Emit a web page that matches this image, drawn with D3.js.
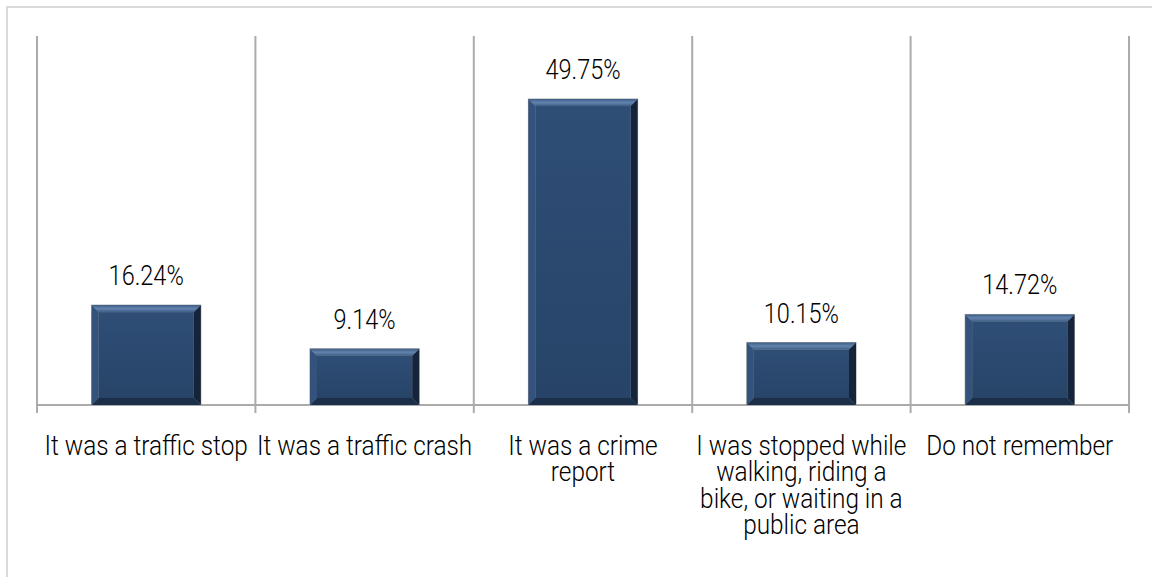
<!DOCTYPE html>
<html>
<head>
<meta charset="utf-8">
<script src="https://cdn.jsdelivr.net/npm/d3@7"></script>
<style>
  html, body { margin: 0; padding: 0; background: #fff; overflow: hidden; }
  text { font-family: Roboto, 'Noto Sans', sans-serif; font-weight: 300; fill: #000; }
</style>
</head>
<body>
<svg id="chart"></svg>
<script>
const categories = ['stop', 'crash', 'crime', 'stopped', 'remember']
const categoryLines = [
  ['It was a traffic stop'],
  ['It was a traffic crash'],
  ['It was a crime', 'report'],
  ['I was stopped while', 'walking, riding a', 'bike, or waiting in a', 'public area'],
  ['Do not remember']
]
const values = [16.24, 9.14, 49.75, 10.15, 14.72]
const valueLabels = ['16.24%', '9.14%', '49.75%', '10.15%', '14.72%']

const W = 1152, H = 577
const plot = { left: 37, right: 1129, top: 36, bottom: 405 }
const fontSize = 28
const squeezeValue = 0.84
const squeezeCat = 0.87

const svg = d3.select('#chart').attr('width', W).attr('height', H)

// outer frame (runs past the right and bottom edges)
svg.append('rect')
  .attr('x', 7).attr('y', 7)
  .attr('width', W + 20).attr('height', H + 20)
  .attr('fill', '#fff')
  .attr('stroke', '#d9d9d9')
  .attr('stroke-width', 2)

const x = d3.scaleBand().domain(categories).range([plot.left, plot.right])
const y = d3.scaleLinear().domain([0, 60]).range([plot.bottom, plot.top])

// vertical gridlines at category boundaries, with ticks below the axis
const bounds = categories.map(c => x(c)).concat([plot.right])
svg.append('g')
  .selectAll('line')
  .data(bounds)
  .join('line')
  .attr('x1', d => d).attr('x2', d => d)
  .attr('y1', plot.top).attr('y2', plot.bottom + 8)
  .attr('stroke', '#ababab')
  .attr('stroke-width', 2)

// x axis line
svg.append('line')
  .attr('x1', plot.left).attr('x2', plot.right)
  .attr('y1', plot.bottom).attr('y2', plot.bottom)
  .attr('stroke', '#ababab')
  .attr('stroke-width', 2)

// gradients for bevel faces
const defs = svg.append('defs')
const grad = (id, x2, y2, stops) => {
  const g = defs.append('linearGradient').attr('id', id)
    .attr('x1', 0).attr('y1', 0).attr('x2', x2).attr('y2', y2)
  stops.forEach(([o, c]) => g.append('stop').attr('offset', o).attr('stop-color', c))
}
grad('gTop', 0, 1, [[0, '#3d5d86'], [0.5, '#6283ad'], [1, '#3f5f88']])
grad('gFace', 0, 1, [[0, '#2f4e76'], [1, '#274468']])

const rows = categories.map((c, i) => ({ c, v: values[i], label: valueLabels[i], lines: categoryLines[i] }))

const bw = x.bandwidth() * 0.5
const bev = 7
const bars = svg.append('g')
  .selectAll('g')
  .data(rows)
  .join('g')
  .attr('transform', d => `translate(${x(d.c) + x.bandwidth() * 0.25},${y(d.v)})`)

bars.each(function (d) {
  const g = d3.select(this)
  const w = bw
  const h = y(0) - y(d.v)
  const b = Math.min(bev, h / 3)
  const poly = pts => pts.map(p => p.join(',')).join(' ')
  g.append('rect').attr('x', -0.5).attr('y', -0.5).attr('width', w + 1).attr('height', h + 0.5)
    .attr('fill', '#9a9a9a')
  g.append('polygon').attr('points', poly([[0, 0], [b, b], [b, h - b], [0, h]])).attr('fill', '#34537c')
  g.append('polygon').attr('points', poly([[w, 0], [w, h], [w - b, h - b], [w - b, b]])).attr('fill', '#15243a')
  g.append('polygon').attr('points', poly([[0, h], [b, h - b], [w - b, h - b], [w, h]])).attr('fill', '#1b2e4a')
  g.append('polygon').attr('points', poly([[0, 0], [w, 0], [w - b, b], [b, b]])).attr('fill', 'url(#gTop)')
  g.append('rect').attr('x', b).attr('y', b).attr('width', w - 2 * b).attr('height', h - 2 * b)
    .attr('fill', 'url(#gFace)')
})

// value labels
svg.append('g')
  .selectAll('text')
  .data(rows)
  .join('text')
  .attr('transform', d => `translate(${x(d.c) + x.bandwidth() / 2},${y(d.v) - 20}) scale(${squeezeValue},1)`)
  .attr('text-anchor', 'middle')
  .style('font-size', fontSize + 'px')
  .text(d => d.label)

// category labels
const cat = svg.append('g')
  .selectAll('text')
  .data(rows)
  .join('text')
  .attr('transform', d => `translate(${x(d.c) + x.bandwidth() / 2},455) scale(${squeezeCat},1)`)
  .attr('text-anchor', 'middle')
  .style('font-size', fontSize + 'px')

cat.selectAll('tspan')
  .data(d => d.lines)
  .join('tspan')
  .attr('x', 0)
  .attr('dy', (d, i) => i === 0 ? 0 : 26.3)
  .text(d => d)
</script>
</body>
</html>
